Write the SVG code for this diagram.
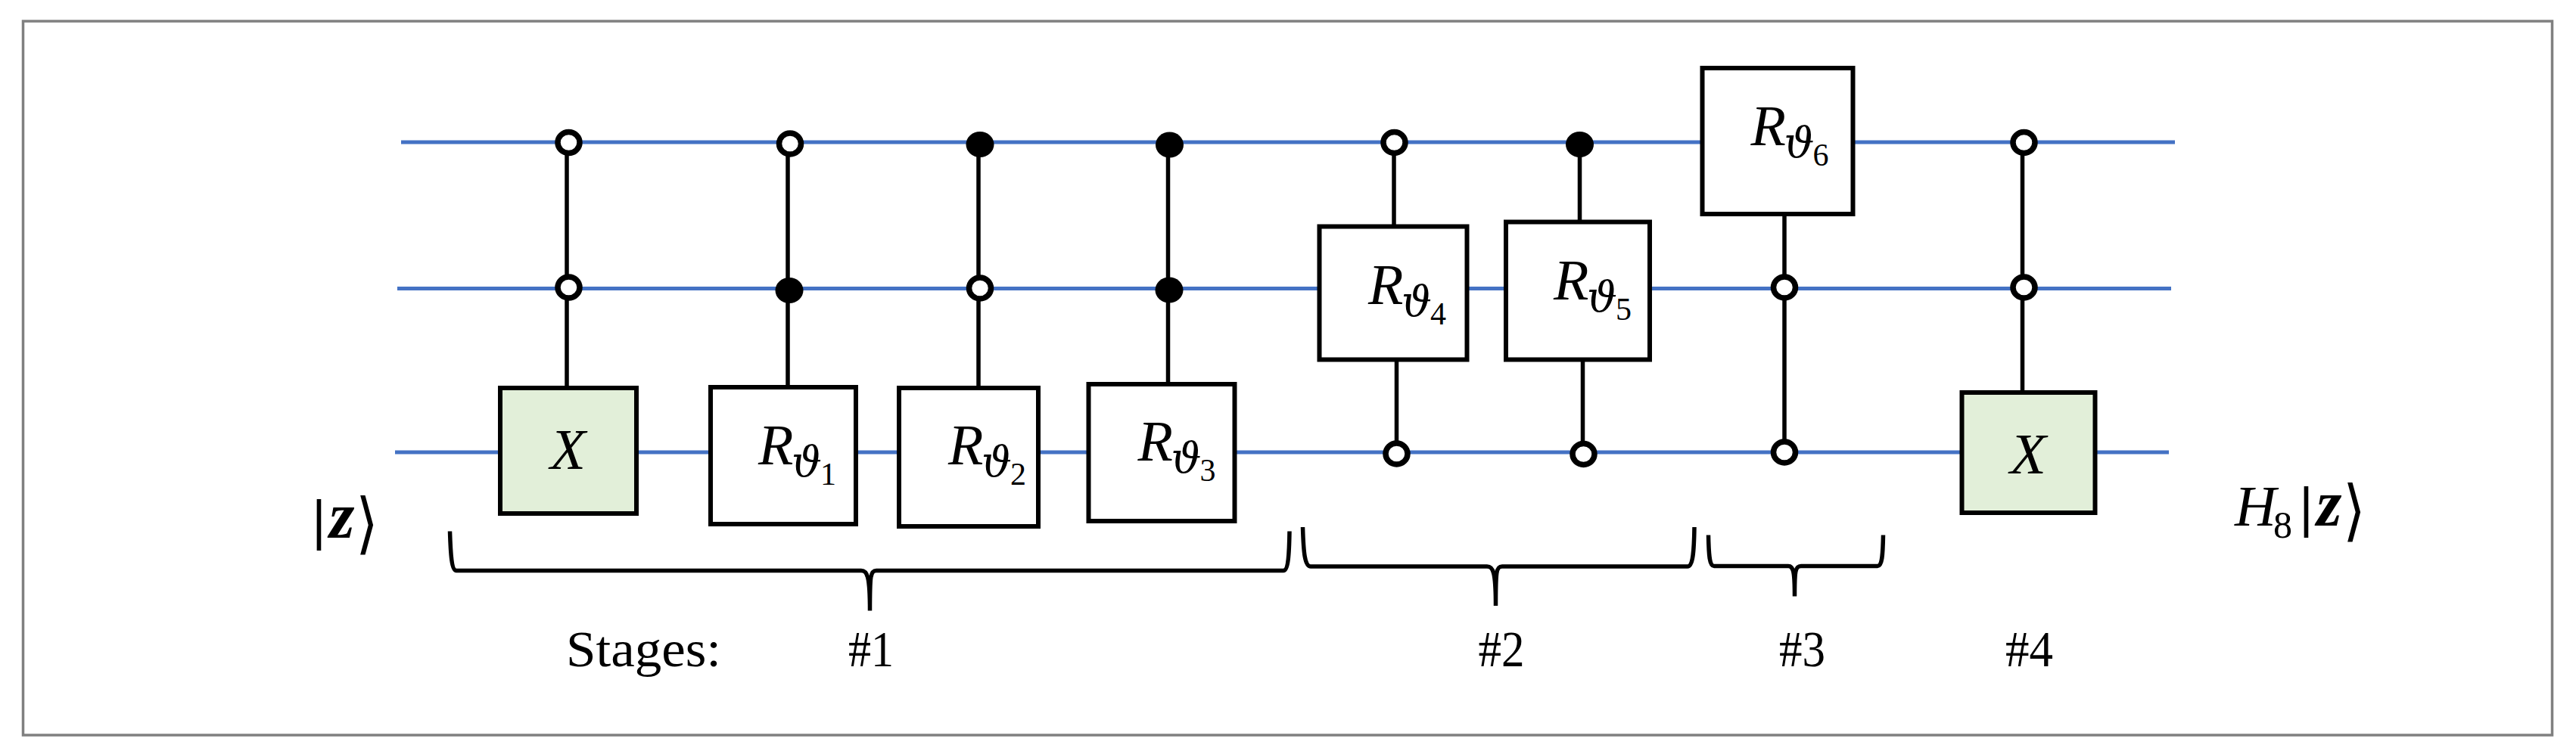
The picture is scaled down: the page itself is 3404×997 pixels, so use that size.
<svg xmlns="http://www.w3.org/2000/svg" width="3404" height="997" viewBox="0 0 3404 997">
<style>
.frame{fill:#fff;stroke:#808080;stroke-width:3.5}
.wire{stroke:#4472C4;stroke-width:5;fill:none}
.link{stroke:#000;stroke-width:5.500;fill:none}
.brace{stroke:#000;stroke-width:5.500;fill:none}
.box{fill:#fff;stroke:#000;stroke-width:6}
.x{fill:#E2EFD9;stroke:#000;stroke-width:6}
.open{fill:#fff;stroke:#000;stroke-width:7.500}
.solid{fill:#000;stroke:none}
text{font-family:"Liberation Serif","Times New Roman",serif;fill:#000}
.m{font-style:italic;font-size:76px}
.th{font-family:"DejaVu Serif",serif;font-style:italic;font-size:56px}
.n{font-style:normal;font-size:42px}
.lab{font-size:68px}
.z{font-style:italic;font-weight:bold;font-size:86px}
.bar{font-family:"DejaVu Sans",sans-serif;font-size:68px}
.ket{font-family:"DejaVu Sans",sans-serif;font-size:88px}
</style>
<rect class="frame" x="30.5" y="28" width="3342" height="944"/>
<g id="connectors">
<path class="wire" d="M530 188H2874M525 381.500H2869M522 598H2866"/>
<path class="link" d="M749 188V512M1041 190V511M1293 190V512M1543.500 191V507M1842 188V298M1845.500 477V600M2087.500 190V292M2091.500 477V600M2358 285V598M2672.500 188V518"/>
</g>
<g id="brace-1"><path class="brace" d="M594.500 702.500C595.500 735 597 754.500 603 754.500H1138C1146 754.500 1149.500 762 1149.500 807.500C1149.500 762 1150 754.500 1158 754.500H1696C1702 754.500 1703.500 735 1704 702.500"/></g>
<g id="brace-2"><path class="brace" d="M1721.500 697C1722.500 730 1724 749 1732 749H1965C1973 749 1976.500 756 1976.500 801C1976.500 756 1977 749 1985 749H2230C2237 749 2238.500 730 2239 697"/></g>
<g id="brace-3"><path class="brace" d="M2257.500 707.500C2258 735 2259 748.500 2265 748.500H2363C2370 748.500 2371.500 756 2371.500 788.500C2371.500 756 2372 748.500 2380 748.500H2481C2487 748.500 2488 735 2488.500 707.500"/></g>
<g id="gate-x1">
<rect class="x" x="661" y="513" width="180" height="166"/>
<text class="m" x="727" y="620" textLength="47" lengthAdjust="spacingAndGlyphs">X</text>
<ellipse class="open" cx="751.500" cy="188.500" rx="14.500" ry="14"/>
<ellipse class="open" cx="751.500" cy="380" rx="14.500" ry="14"/>
</g>
<g id="gate-r1">
<rect class="box" x="939" y="512" width="192" height="181"/>
<text class="m" x="1002" y="614">R<tspan class="th" x="1046" dy="16">ϑ</tspan><tspan class="n" x="1084" dy="11">1</tspan></text>
<ellipse class="open" cx="1044" cy="190" rx="14.500" ry="14"/>
<ellipse class="solid" cx="1043" cy="384" rx="18.500" ry="17"/>
</g>
<g id="gate-r2">
<rect class="box" x="1188" y="513" width="184" height="183"/>
<text class="m" x="1253" y="614">R<tspan class="th" x="1297" dy="16">ϑ</tspan><tspan class="n" x="1335" dy="11">2</tspan></text>
<ellipse class="solid" cx="1295" cy="191" rx="18.500" ry="17"/>
<ellipse class="open" cx="1295" cy="381" rx="14.500" ry="14"/>
</g>
<g id="gate-r3">
<rect class="box" x="1438.500" y="508" width="193" height="181"/>
<text class="m" x="1503.500" y="609">R<tspan class="th" x="1547.500" dy="16">ϑ</tspan><tspan class="n" x="1585.500" dy="11">3</tspan></text>
<ellipse class="solid" cx="1545.500" cy="191.500" rx="18.500" ry="17"/>
<ellipse class="solid" cx="1545" cy="383.500" rx="18.500" ry="17"/>
</g>
<g id="gate-r4">
<rect class="box" x="1743.500" y="299.500" width="195" height="176"/>
<text class="m" x="1808" y="402">R<tspan class="th" x="1852" dy="16">ϑ</tspan><tspan class="n" x="1890" dy="11">4</tspan></text>
<ellipse class="open" cx="1842.500" cy="188.500" rx="14.500" ry="14"/>
<ellipse class="open" cx="1845.500" cy="600" rx="14.500" ry="14"/>
</g>
<g id="gate-r5">
<rect class="box" x="1990" y="293.500" width="190" height="182"/>
<text class="m" x="2053" y="395.500">R<tspan class="th" x="2097" dy="16">ϑ</tspan><tspan class="n" x="2135" dy="11">5</tspan></text>
<ellipse class="solid" cx="2087.500" cy="191" rx="18.500" ry="17"/>
<ellipse class="open" cx="2092.500" cy="600.500" rx="14.500" ry="14"/>
</g>
<g id="gate-r6">
<rect class="box" x="2249.500" y="90" width="199" height="193"/>
<text class="m" x="2313.500" y="192">R<tspan class="th" x="2357.500" dy="16">ϑ</tspan><tspan class="n" x="2395.500" dy="11">6</tspan></text>
<ellipse class="open" cx="2358" cy="380" rx="14.500" ry="14"/>
<ellipse class="open" cx="2358" cy="598" rx="14.500" ry="14"/>
</g>
<g id="gate-x2">
<rect class="x" x="2592.500" y="519" width="176" height="159"/>
<text class="m" x="2656" y="626" textLength="48" lengthAdjust="spacingAndGlyphs">X</text>
<ellipse class="open" cx="2674.500" cy="188.500" rx="14.500" ry="14"/>
<ellipse class="open" cx="2674.500" cy="380" rx="14.500" ry="14"/>
</g>
<g id="labels">
<text><tspan class="bar" x="410" y="712">|</tspan><tspan class="z" x="435" y="710.500">z</tspan></text>
<text class="ket" x="470" y="722" textLength="30" lengthAdjust="spacingAndGlyphs">⟩</text>
<text><tspan class="m" x="2953" y="695">H</tspan><tspan x="3004" y="711" font-size="50">8</tspan><tspan class="bar" x="3036" y="695">|</tspan><tspan class="z" x="3061" y="694.500">z</tspan></text>
<text class="ket" x="3096" y="705" textLength="30" lengthAdjust="spacingAndGlyphs">⟩</text>
<text class="lab" x="748" y="880.500" textLength="205" lengthAdjust="spacingAndGlyphs">Stages:</text>
<text class="lab" x="1121" y="880.500" textLength="60" lengthAdjust="spacingAndGlyphs">#1</text>
<text class="lab" x="1953.500" y="880.500" textLength="61" lengthAdjust="spacingAndGlyphs">#2</text>
<text class="lab" x="2351" y="880.500" textLength="61" lengthAdjust="spacingAndGlyphs">#3</text>
<text class="lab" x="2650" y="880.500" textLength="63" lengthAdjust="spacingAndGlyphs">#4</text>
</g>
</svg>
